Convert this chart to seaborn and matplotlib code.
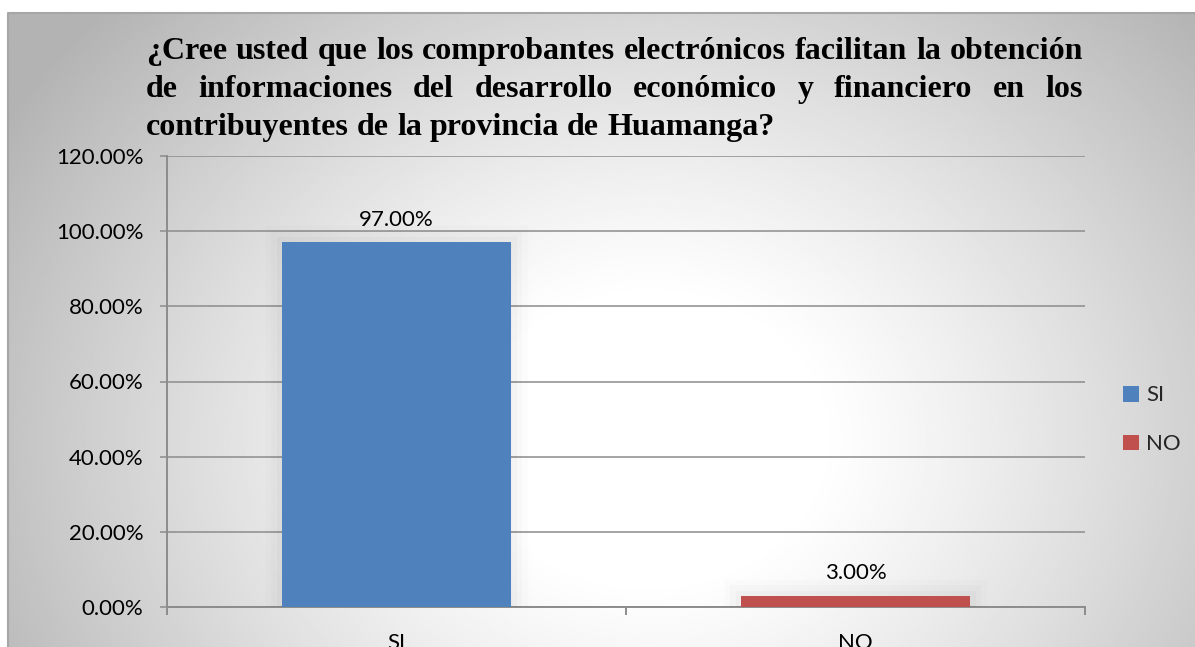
import numpy as np
import pandas as pd
import matplotlib
matplotlib.use("Agg")
import matplotlib.pyplot as plt
import matplotlib.patheffects as pe
from matplotlib.ticker import FuncFormatter, FixedLocator
import seaborn as sns

# Survey answers and their share of respondents
categories = ["SI", "NO"]
shares = [0.97, 0.03]
bar_colors = ["#4F81BD", "#C0504D"]
yticks = [0.0, 0.2, 0.4, 0.6, 0.8, 1.0, 1.2]

title_lines = [
    "¿Cree usted que los comprobantes electrónicos facilitan la obtención",
    "de informaciones del desarrollo económico y financiero en los",
    "contribuyentes de la provincia de Huamanga?",
]

sns.set_theme(style="white")
plt.rcParams["font.family"] = ["Lato", "DejaVu Sans"]

W, H, DPI = 1195, 647, 100
LABEL_SIZE = 16
fig = plt.figure(figsize=(W / DPI, H / DPI), dpi=DPI)
fig.patch.set_facecolor("white")

# Chart-area background: soft radial gradient, white in the middle, grey at the rim
bg = fig.add_axes([8 / W, 0, 1 - 8 / W, 1 - 13 / H])
gx = np.linspace(8, W, 600)
gy = np.linspace(13, H, 320)
GX, GY = np.meshgrid(gx, gy)
d = np.sqrt(((GX - 650) / 600) ** 2 + ((GY - 440) / 500) ** 2)
dn = np.clip((d - 0.28) / 0.75, 0, 1.3)
shade = 1.0 - 0.22 * dn ** 1.15
bg.imshow(shade, cmap="gray", vmin=0, vmax=1, aspect="auto",
          extent=[0, 1, 0, 1], interpolation="bilinear")
bg.set_xlim(0, 1)
bg.set_ylim(0, 1)
bg.set_axis_off()
bg.plot([0, 0, 1], [0, 1, 1], color="#A6A6A6", lw=1.5, transform=bg.transAxes,
        clip_on=False)

# Plot area
ax = fig.add_axes([167 / W, 1 - 607 / H, (1085 - 167) / W, (607 - 156) / H])
ax.set_facecolor("none")

df = pd.DataFrame({"respuesta": categories, "porcentaje": shares})
sns.barplot(data=df, x="respuesta", y="porcentaje", hue="respuesta",
            palette=bar_colors, width=0.5, saturation=1, ax=ax, legend=True,
            zorder=3)

# Soft halo around each bar
halo = [pe.Stroke(linewidth=24, foreground="#000000", alpha=0.012),
        pe.Stroke(linewidth=16, foreground="#000000", alpha=0.016),
        pe.Stroke(linewidth=8, foreground="#000000", alpha=0.02),
        pe.Normal()]
for p in ax.patches:
    p.set_path_effects(halo)
    p.set_edgecolor("none")

ax.set_ylim(0, 1.2)
ax.set_xlim(-0.5, 1.5)
ax.yaxis.set_major_locator(FixedLocator(yticks))
ax.yaxis.set_major_formatter(FuncFormatter(lambda v, _: f"{v * 100:.2f}%"))
ax.grid(axis="y", color="#8C8C8C", linewidth=1.1, zorder=0)
ax.grid(axis="x", visible=False)
ax.set_axisbelow(True)

for s in ["top", "right"]:
    ax.spines[s].set_visible(False)
for s in ["left", "bottom"]:
    ax.spines[s].set_visible(True)
    ax.spines[s].set_color("#8C8C8C")
    ax.spines[s].set_linewidth(1.4)

ax.tick_params(axis="y", which="major", left=True, direction="out", length=5,
               width=1.1, color="#8C8C8C", pad=12, labelsize=LABEL_SIZE,
               labelcolor="#000000")
ax.xaxis.set_minor_locator(FixedLocator([-0.5, 0.5, 1.5]))
ax.tick_params(axis="x", which="minor", bottom=True, direction="out",
               length=6, width=1.4, color="#8C8C8C")
ax.tick_params(axis="x", which="major", bottom=False, length=0, pad=19,
               labelsize=LABEL_SIZE, labelcolor="#000000")
ax.set_xlabel("")
ax.set_ylabel("")

# Value labels over the bars
for cont in ax.containers:
    ax.bar_label(cont, labels=[f"{v * 100:.2f}%" for v in cont.datavalues],
                 padding=9, fontsize=LABEL_SIZE, color="#000000")

# Legend on the right
leg = ax.legend(loc="center left", bbox_to_anchor=(1.041, 0.415),
                frameon=False, fontsize=LABEL_SIZE, handlelength=0.72,
                handleheight=0.72, handletextpad=0.35, labelspacing=1.3,
                borderaxespad=0, borderpad=0)
for h in leg.legend_handles:
    h.set_path_effects([])

# Justified bold serif title
title_font = dict(family="Liberation Serif", weight="bold", size=23,
                  color="#000000")
left_px, right_px = 146, 1083
baselines = [59, 97, 135]
fig.canvas.draw()
renderer = fig.canvas.get_renderer()
for i, (line, base) in enumerate(zip(title_lines, baselines)):
    words = line.split(" ")
    texts = [fig.text(0, 1 - base / H, w, ha="left", va="baseline",
                      **title_font) for w in words]
    widths = [t.get_window_extent(renderer).width for t in texts]
    if i < len(title_lines) - 1 and len(words) > 1:
        gap = (right_px - left_px - sum(widths)) / (len(words) - 1)
    else:
        space = fig.text(0, 0, "a a", **title_font)
        single = fig.text(0, 0, "aa", **title_font)
        gap = (space.get_window_extent(renderer).width
               - single.get_window_extent(renderer).width)
        space.remove()
        single.remove()
    x = left_px
    for t, w in zip(texts, widths):
        t.set_x(x / W)
        x += w + gap

fig.savefig("out.png", dpi=DPI)
